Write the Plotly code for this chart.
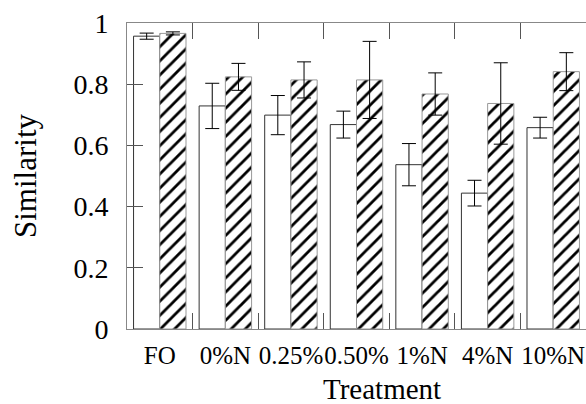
import plotly.graph_objects as go

# Similarity by treatment: two series per treatment (open and hatched bars)
treatments = ["FO", "0%N", "0.25%", "0.50%", "1%N", "4%N", "10%N"]
open_mean = [0.957, 0.729, 0.699, 0.668, 0.537, 0.444, 0.658]
open_err = [0.010, 0.074, 0.064, 0.044, 0.069, 0.042, 0.034]
hatched_mean = [0.966, 0.824, 0.814, 0.814, 0.768, 0.737, 0.841]
hatched_err = [0.005, 0.044, 0.059, 0.126, 0.069, 0.133, 0.062]

y_ticks = [0, 0.2, 0.4, 0.6, 0.8, 1.0]
y_tick_text = ["0", "0.2", "0.4", "0.6", "0.8", "1"]

serif = "Liberation Serif"

fig = go.Figure()
fig.add_trace(go.Bar(
    x=treatments, y=open_mean,
    marker=dict(color="white", line=dict(color="#333333", width=1)),
    error_y=dict(type="data", array=open_err, color="black", thickness=1, width=7),
    showlegend=False,
))
fig.add_trace(go.Bar(
    x=treatments, y=hatched_mean,
    marker=dict(
        color="white",
        line=dict(color="#999999", width=1),
        pattern=dict(shape="/", fgcolor="#000000", bgcolor="#ffffff",
                     size=10, solidity=0.28, fillmode="replace"),
    ),
    error_y=dict(type="data", array=hatched_err, color="black", thickness=1, width=7),
    showlegend=False,
))

plot_w = 586 - 127
plot_h = 404 - 23 - 75

fig.update_layout(
    width=586, height=404,
    margin=dict(l=127, r=0, t=23, b=75),
    paper_bgcolor="white", plot_bgcolor="white",
    barmode="group", bargap=0.2, bargroupgap=0,
    font=dict(family=serif, size=27, color="black"),
    xaxis=dict(
        type="category", tickson="boundaries", tickangle=0,
        ticks="inside", ticklen=16, tickcolor="#555555", tickwidth=1,
        showline=True, linecolor="#888888", linewidth=1, mirror="ticks",
        showgrid=False, tickfont=dict(size=25), ticklabelstandoff=4,
    ),
    yaxis=dict(
        range=[0, 1], tickvals=y_ticks, ticktext=y_tick_text,
        ticks="inside", ticklen=16, tickcolor="#555555", tickwidth=1,
        showline=True, linecolor="#888888", linewidth=1,
        showgrid=False, zeroline=False, tickfont=dict(size=28),
        ticklabelstandoff=12,
        title=dict(text="Similarity", font=dict(size=31), standoff=27),
    ),
    yaxis2=dict(
        overlaying="y", side="right", range=[0, 1], tickvals=y_ticks,
        ticks="inside", ticklen=16, tickcolor="#555555", tickwidth=1,
        showticklabels=False, showline=False, showgrid=False, zeroline=False,
    ),
    annotations=[dict(
        text="Treatment", xref="paper", yref="paper",
        x=(382 - 127) / plot_w, y=-(404 - 329) / plot_h,
        xanchor="center", yanchor="bottom", yshift=-3,
        showarrow=False, font=dict(size=29),
    )],
)

fig.write_html("out.html")
